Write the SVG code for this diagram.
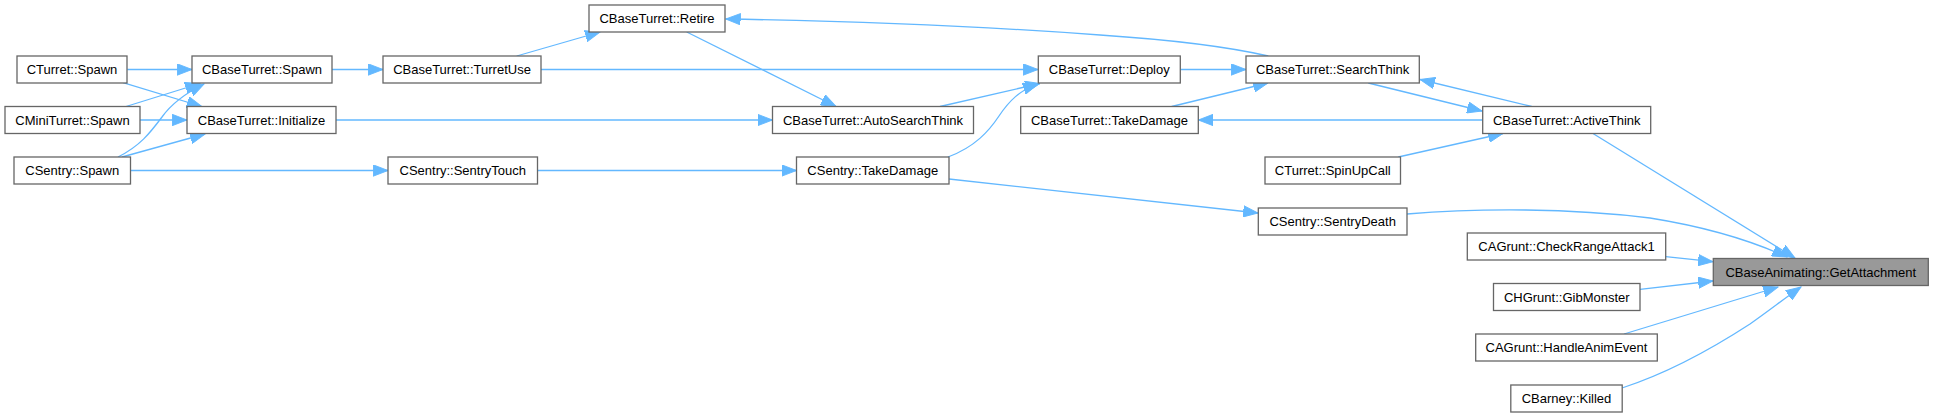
<svg xmlns="http://www.w3.org/2000/svg" width="1934" height="417" viewBox="0 0 1934 417">
<style>
.n rect{fill:#ffffff;stroke:#666666;stroke-width:1.3}
.n.hl rect{fill:#999999}
.n text{font-family:"Liberation Sans",Arial,sans-serif;font-size:13px;fill:#000000;text-anchor:middle}
.e path{fill:none;stroke:#63b8ff;stroke-width:1.3;marker-end:url(#ah)}
</style>
<defs>
<marker id="ah" markerUnits="userSpaceOnUse" markerWidth="16" markerHeight="12" refX="13" refY="5" orient="auto" viewBox="0 0 14 10">
<path d="M0,0 L13,5 L0,10 z" fill="#63b8ff" stroke="#63b8ff" stroke-width="0.8"/>
</marker>
</defs>
<rect x="0" y="0" width="1934" height="417" fill="#ffffff"/>
<g id="edges" class="e">
<path d="M127.3,69.5 L192,69.5"/>
<path d="M123,82.7 L201.7,106.5"/>
<path d="M126,106.5 L200,83.5"/>
<path d="M140,120 L187,120"/>
<path d="M118,157 C140,146 150,133 162,117 C172,103 186,93 204,84"/>
<path d="M122,157 L205,134"/>
<path d="M130.5,170.5 L388,170.5"/>
<path d="M332,69.5 L383,69.5"/>
<path d="M516.7,56 L600,32"/>
<path d="M541,69.5 L1038,69.5"/>
<path d="M336,120 L772.5,120"/>
<path d="M686.7,32 L836,106.5"/>
<path d="M940,106.5 L1040,83.5"/>
<path d="M537.5,170.5 L796.5,170.5"/>
<path d="M948,157 C975,147 989,131 999,116 C1009,101 1020,90 1038,84"/>
<path d="M949,179 L1258,213"/>
<path d="M1180.3,69.5 L1246,69.5"/>
<path d="M1171.7,106.5 L1268,83"/>
<path d="M1268.3,56 C1220,45 1160,39 1100,35 C980,26 840,21 725.7,19"/>
<path d="M1368.3,83 L1482,111"/>
<path d="M1531.7,106.5 L1420,79.5"/>
<path d="M1482.7,120 L1198.3,120"/>
<path d="M1398.3,157 L1503,133.5"/>
<path d="M1593,133.5 L1795,258"/>
<path d="M1407,214 C1480,208 1570,208 1650,218 C1700,226 1750,240 1787,257"/>
<path d="M1665.7,256.7 L1713,261.7"/>
<path d="M1640,289.3 L1713,281"/>
<path d="M1624,334 L1778,287"/>
<path d="M1622,388 C1665,374 1710,350 1750,324 C1770,310 1785,298 1801,287"/>
</g>
<g id="n_cturret_spawn" class="n"><rect x="17" y="56" width="110" height="27"/><text x="72" y="74">CTurret::Spawn</text></g>
<g id="n_cbt_spawn" class="n"><rect x="192" y="56" width="140" height="27"/><text x="262" y="74">CBaseTurret::Spawn</text></g>
<g id="n_cbt_turretuse" class="n"><rect x="383" y="56" width="158" height="27"/><text x="462" y="74">CBaseTurret::TurretUse</text></g>
<g id="n_cmini_spawn" class="n"><rect x="5" y="106.5" width="135" height="27"/><text x="72.5" y="124.5">CMiniTurret::Spawn</text></g>
<g id="n_cbt_init" class="n"><rect x="187" y="106.5" width="149" height="27"/><text x="261.5" y="124.5">CBaseTurret::Initialize</text></g>
<g id="n_csentry_spawn" class="n"><rect x="14" y="157" width="116.5" height="27"/><text x="72.25" y="175">CSentry::Spawn</text></g>
<g id="n_sentrytouch" class="n"><rect x="388" y="157" width="149.5" height="27"/><text x="462.75" y="175">CSentry::SentryTouch</text></g>
<g id="n_retire" class="n"><rect x="589" y="5" width="136" height="27"/><text x="657" y="23">CBaseTurret::Retire</text></g>
<g id="n_autosearch" class="n"><rect x="772.5" y="106.5" width="201" height="27"/><text x="873" y="124.5">CBaseTurret::AutoSearchThink</text></g>
<g id="n_cs_takedamage" class="n"><rect x="796.5" y="157" width="152.5" height="27"/><text x="872.75" y="175">CSentry::TakeDamage</text></g>
<g id="n_deploy" class="n"><rect x="1038.3" y="56" width="142" height="27"/><text x="1109.3" y="74">CBaseTurret::Deploy</text></g>
<g id="n_cbt_takedamage" class="n"><rect x="1020.7" y="106.5" width="177.6" height="27"/><text x="1109.5" y="124.5">CBaseTurret::TakeDamage</text></g>
<g id="n_searchthink" class="n"><rect x="1246" y="56" width="173.3" height="27"/><text x="1332.65" y="74">CBaseTurret::SearchThink</text></g>
<g id="n_activethink" class="n"><rect x="1482.7" y="106.5" width="168" height="27"/><text x="1566.7" y="124.5">CBaseTurret::ActiveThink</text></g>
<g id="n_spinupcall" class="n"><rect x="1265" y="157" width="135.5" height="27"/><text x="1332.75" y="175">CTurret::SpinUpCall</text></g>
<g id="n_sentrydeath" class="n"><rect x="1258.3" y="208" width="148.7" height="27"/><text x="1332.65" y="226">CSentry::SentryDeath</text></g>
<g id="n_checkrange" class="n"><rect x="1467.3" y="233" width="198.4" height="27"/><text x="1566.5" y="251">CAGrunt::CheckRangeAttack1</text></g>
<g id="n_getattach" class="n hl"><rect x="1713.3" y="258.5" width="215" height="27"/><text x="1820.8" y="276.5">CBaseAnimating::GetAttachment</text></g>
<g id="n_gibmonster" class="n"><rect x="1493.5" y="283.5" width="146.5" height="27"/><text x="1566.75" y="301.5">CHGrunt::GibMonster</text></g>
<g id="n_handleanim" class="n"><rect x="1475.7" y="334" width="181.6" height="27"/><text x="1566.5" y="352">CAGrunt::HandleAnimEvent</text></g>
<g id="n_killed" class="n"><rect x="1510.8" y="385" width="111.4" height="27"/><text x="1566.5" y="403">CBarney::Killed</text></g>
</svg>
